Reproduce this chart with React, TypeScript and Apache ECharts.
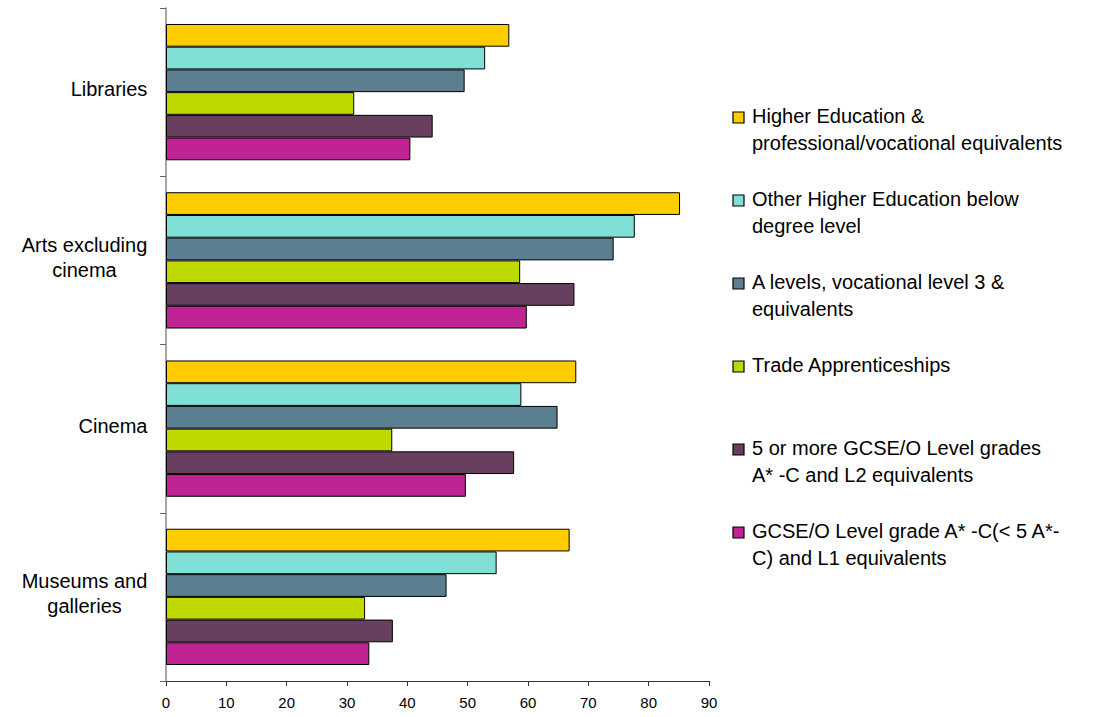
import React, { useEffect, useRef } from "react";
import * as echarts from "echarts";

const categories = ["Libraries", "Arts excluding\ncinema", "Cinema", "Museums and\ngalleries"];

const seriesNames = [
  "Higher Education &\nprofessional/vocational equivalents",
  "Other Higher Education below\ndegree level",
  "A levels, vocational level 3 &\nequivalents",
  "Trade Apprenticeships",
  "5 or more GCSE/O Level grades\nA* -C and L2 equivalents",
  "GCSE/O Level grade A* -C(< 5 A*-\nC) and L1 equivalents",
];

const higherEducation = [56.9, 85.2, 68.0, 66.9];
const otherHigherEducation = [52.9, 77.7, 58.9, 54.8];
const aLevels = [49.5, 74.2, 64.9, 46.5];
const tradeApprenticeships = [31.2, 58.7, 37.5, 33.0];
const gcseFiveOrMore = [44.2, 67.7, 57.7, 37.6];
const gcseBelowFive = [40.5, 59.8, 49.7, 33.7];

const seriesValues = [
  higherEducation,
  otherHigherEducation,
  aLevels,
  tradeApprenticeships,
  gcseFiveOrMore,
  gcseBelowFive,
];

const seriesColors = ["#FFCC00", "#80E0D5", "#5B7E91", "#BFD800", "#693F5F", "#C02394"];

const xTicks = { min: 0, max: 90, interval: 10 };

const FONT = "'Liberation Sans', Arial, sans-serif";
const CAT_FONT_SIZE = 20;
const LEGEND_FONT_SIZE = 20;

function measure(text: string, size: number): number {
  const c = document.createElement("canvas");
  const ctx = c.getContext("2d");
  if (!ctx) return text.length * size * 0.5;
  ctx.font = `${size}px 'Liberation Sans', Arial, sans-serif`;
  return ctx.measureText(text).width;
}

export default function App() {
  const ref = useRef<HTMLDivElement>(null);

  useEffect(() => {
    if (!ref.current) return;
    const chart = echarts.init(ref.current, undefined, { renderer: "svg" });

    const rich: Record<string, any> = {};
    categories.forEach((cat, i) => {
      const lines = cat.split("\n");
      const w = Math.max(...lines.map((l) => measure(l, CAT_FONT_SIZE)));
      rich["c" + i] = {
        width: Math.ceil(w) + 1,
        align: "center",
        fontSize: CAT_FONT_SIZE,
        fontFamily: FONT,
        color: "#000",
        lineHeight: 25,
      };
    });

    const legendX = 733;
    const legendTop0 = 112;
    const legendStep = 83;
    const legendGraphics: any[] = [];
    seriesNames.forEach((name, i) => {
      const top = legendTop0 + i * legendStep;
      legendGraphics.push({
        type: "rect",
        shape: { x: legendX, y: top, width: 11, height: 11 },
        style: { fill: seriesColors[i], stroke: "#000", lineWidth: 1.2 },
      });
      name.split("\n").forEach((line, j) => {
        legendGraphics.push({
          type: "text",
          x: legendX + 19,
          y: top + 4 + j * 27,
          style: {
            text: line,
            fill: "#000",
            font: `${LEGEND_FONT_SIZE}px ${FONT}`,
            textAlign: "left",
            textVerticalAlign: "middle",
          },
        });
      });
    });

    chart.setOption({
      animation: false,
      backgroundColor: "#fff",
      textStyle: { fontFamily: FONT },
      grid: { left: 166, right: 388, top: 8, bottom: 36, containLabel: false },
      xAxis: {
        type: "value",
        min: xTicks.min,
        max: xTicks.max,
        interval: xTicks.interval,
        splitLine: { show: false },
        axisLine: { show: true, lineStyle: { color: "#333", width: 1 } },
        axisTick: { show: true, length: 5, lineStyle: { color: "#333" } },
        axisLabel: { color: "#000", fontSize: 15, fontFamily: FONT, margin: 14 },
      },
      yAxis: {
        type: "category",
        data: categories,
        inverse: true,
        axisLine: { show: true, lineStyle: { color: "#888", width: 1.5 } },
        axisTick: { show: true, length: 6, lineStyle: { color: "#666" } },
        axisLabel: {
          margin: 18,
          padding: [0, 0, 6, 0],
          formatter: (value: string, index: number) =>
            value
              .split("\n")
              .map((l) => `{c${index}|${l}}`)
              .join("\n"),
          rich,
        },
      },
      series: seriesNames.map((name, i) => ({
        name,
        type: "bar",
        data: seriesValues[i],
        barGap: "0%",
        barCategoryGap: "19%",
        itemStyle: {
          color: seriesColors[i],
          borderColor: "#000",
          borderWidth: 1,
        },
      })),
      graphic: legendGraphics,
    });

    return () => chart.dispose();
  }, []);

  return (
    <div
      ref={ref}
      style={{ position: "absolute", left: 0, top: 0, width: 1097, height: 717 }}
    />
  );
}
